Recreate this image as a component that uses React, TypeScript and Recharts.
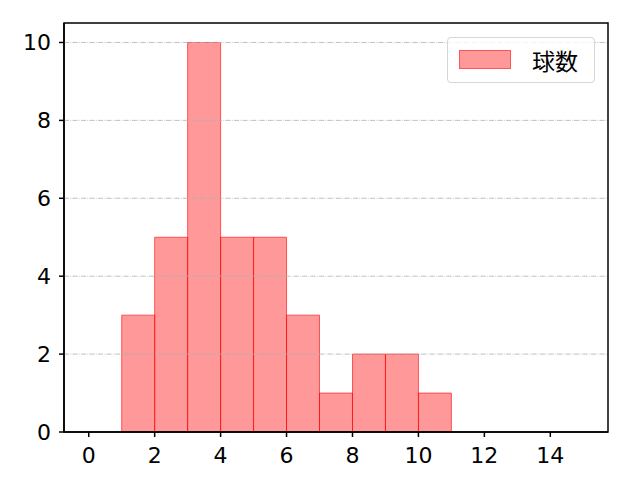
import React from "react";
import {
  ComposedChart,
  XAxis,
  YAxis,
  ReferenceArea,
  ReferenceLine,
  Scatter,
} from "recharts";

const binStarts = [0, 1, 2, 3, 4, 5, 6, 7, 8, 9, 10, 11, 12, 13, 14];
const counts = [0, 3, 5, 10, 5, 5, 3, 1, 2, 2, 1, 0, 0, 0, 0];
const xTicks = [0, 2, 4, 6, 8, 10, 12, 14];
const yTicks = [0, 2, 4, 6, 8, 10];
const seriesName = "球数";

const X_DOMAIN: [number, number] = [-0.75, 15.75];
const Y_DOMAIN: [number, number] = [0, 10.5];

const bins = binStarts.map((s, i) => ({ x1: s, x2: s + 1, count: counts[i] }));
const FONT = "'Noto Sans CJK JP', 'DejaVu Sans', sans-serif";
const TICK_FONT_FAMILY = "'DejaVu Sans', sans-serif";
const TICK_FONT = 22;

const LegendBox = () => (
  <div
    style={{
      position: "absolute",
      left: 447,
      top: 37,
      width: 148,
      height: 46,
      border: "1px solid #d6d6d6",
      borderRadius: 4,
      background: "rgba(255,255,255,0.8)",
      boxSizing: "border-box",
      fontFamily: FONT,
      fontSize: 23,
    }}
  >
    <div
      style={{
        position: "absolute",
        left: 11,
        top: 12,
        width: 52,
        height: 19,
        background: "rgba(255,0,0,0.4)",
        border: "1px solid rgba(255,0,0,0.45)",
        boxSizing: "border-box",
      }}
    />
    <div
      style={{
        position: "absolute",
        left: 84,
        top: 6,
        lineHeight: "32px",
        color: "#000",
        whiteSpace: "nowrap",
      }}
    >
      {seriesName}
    </div>
  </div>
);

export default function App() {
  return (
    <div
      style={{
        position: "absolute",
        left: 0,
        top: 0,
        width: 640,
        height: 480,
        background: "#fff",
      }}
    >
      <ComposedChart
        width={640}
        height={480}
        data={[]}
        margin={{ top: 23, right: 32, bottom: 0, left: 0 }}
      >
        <XAxis
          type="number"
          dataKey="x"
          xAxisId="b"
          domain={X_DOMAIN}
          ticks={xTicks}
          allowDataOverflow
          height={48}
          stroke="#000"
          strokeWidth={1.5}
          tickSize={5}
          tick={{ fill: "#000", fontSize: TICK_FONT, fontFamily: TICK_FONT_FAMILY }}
          tickMargin={10}
        />
        <YAxis
          type="number"
          yAxisId="l"
          domain={Y_DOMAIN}
          ticks={yTicks}
          allowDataOverflow
          width={64}
          stroke="#000"
          strokeWidth={1.5}
          tickSize={5}
          tick={{ fill: "#000", fontSize: TICK_FONT, fontFamily: TICK_FONT_FAMILY }}
          tickMargin={8}
        />
        {bins
          .filter((b) => b.count > 0)
          .map((b) => (
            <ReferenceArea
              key={b.x1}
              xAxisId="b"
              yAxisId="l"
              x1={b.x1}
              x2={b.x2}
              y1={0}
              y2={b.count}
              fill="#ff0000"
              fillOpacity={0.4}
              stroke="#ff0000"
              strokeOpacity={0.6}
              strokeWidth={1}
              ifOverflow="visible"
            />
          ))}
        {yTicks
          .filter((t) => t > 0)
          .map((t) => (
            <ReferenceLine
              key={t}
              xAxisId="b"
              yAxisId="l"
              y={t}
              stroke="#b0b0b0"
              strokeWidth={0.8}
              strokeDasharray="5.1 1.3 0.8 1.3"
            />
          ))}
        <ReferenceArea
          xAxisId="b"
          yAxisId="l"
          x1={X_DOMAIN[0]}
          x2={X_DOMAIN[1]}
          y1={Y_DOMAIN[0]}
          y2={Y_DOMAIN[1]}
          fill="none"
          fillOpacity={0}
          stroke="#000"
          strokeWidth={1.5}
          ifOverflow="visible"
        />
        <Scatter
          xAxisId="b"
          yAxisId="l"
          data={[]}
          dataKey="y"
          isAnimationActive={false}
        />
      </ComposedChart>
      <LegendBox />
    </div>
  );
}
